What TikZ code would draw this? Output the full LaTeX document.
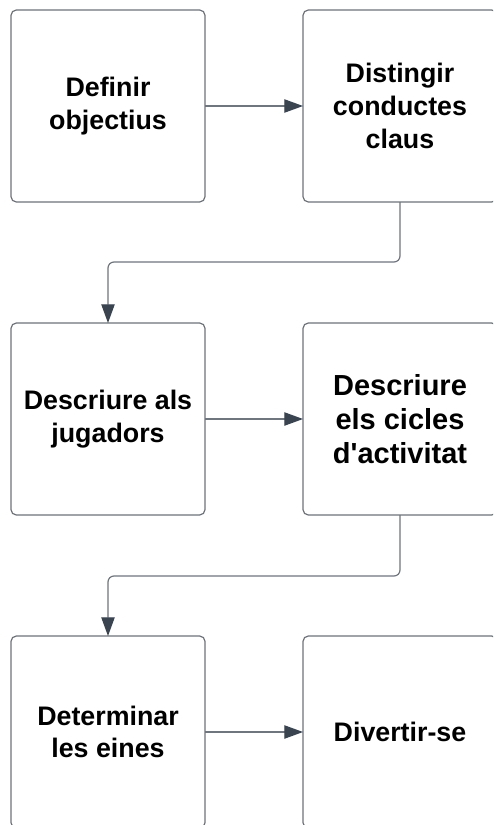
\documentclass[tikz,border=0pt]{standalone}
\usepackage{fontspec}
\setmainfont{Liberation Sans}[Ligatures=TeXOff]
\usepackage{xcolor}
\usepackage{tikz}
\usetikzlibrary{arrows.meta}

\definecolor{boxline}{HTML}{6E737A}
\definecolor{linkline}{HTML}{70767E}
\definecolor{tipfill}{HTML}{3A4450}

\begin{document}
\begin{tikzpicture}[x=0.75pt, y=-0.75pt, >={Triangle[length=14pt, width=10pt, color=tipfill]}, align=center, stage/.style={rectangle, draw=boxline, line width=0.9pt, rounded corners=4pt, minimum width=145.5pt, minimum height=144pt, inner sep=0pt, outer sep=0pt, font=\fontsize{20.1}{24.5}\selectfont\bfseries}, link/.style={->, draw=linkline, line width=0.9pt, rounded corners=4.5pt}]
\clip (0,0) rectangle (493,825);
\fill[white] (0,0) rectangle (493,825);
\node[stage] at (108,106) (def) {Definir\\objectius};
\node[stage] at (400,106) (dist) {Distingir\\conductes\\claus};
\node[stage] at (108,419) (jug) {Descriure als\\jugadors};
\node[stage, font=\fontsize{21.75}{25.5}\selectfont\bfseries] at (400,419) (cicl) {Descriure\\els cicles\\d'activitat};
\node[stage] at (108,732) (eines) {Determinar\\les eines};
\node[stage] at (400,732) (div) {Divertir-se};
\draw[link] (def) -- (dist);
\draw[link] (dist.south) -- ++(0,60) -| (jug.north);
\draw[link] (jug) -- (cicl);
\draw[link] (cicl.south) -- ++(0,61) -| (eines.north);
\draw[link] (eines) -- (div);
\end{tikzpicture}
\end{document}
